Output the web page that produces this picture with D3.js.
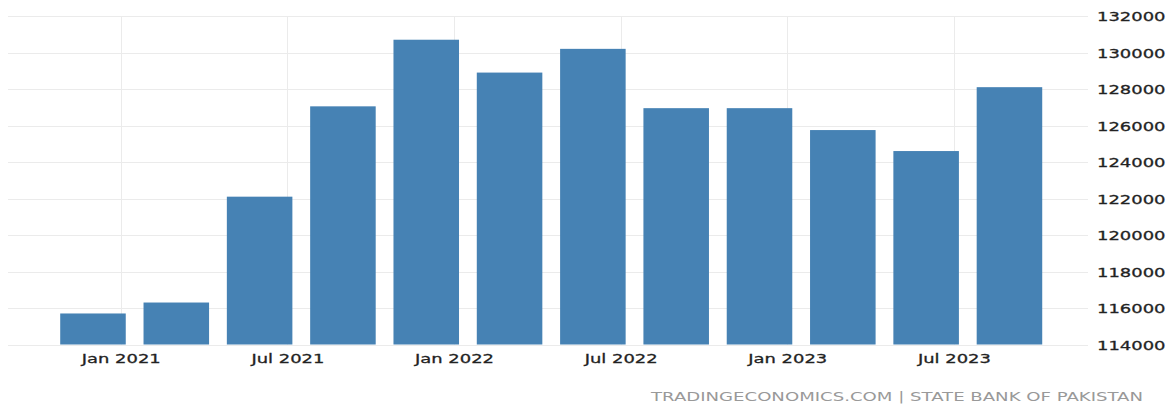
<!DOCTYPE html>
<html>
<head>
<meta charset="utf-8">
<script src="https://cdn.jsdelivr.net/npm/d3@7"></script>
<style>
  html, body { margin: 0; padding: 0; background: #ffffff; }
  svg { display: block; }
</style>
</head>
<body>
<svg id="chart" width="1171" height="406"></svg>
<script>
// ---- data ----
const periods = ["2020-12", "2021-03", "2021-06", "2021-09", "2021-12", "2022-03",
                 "2022-06", "2022-09", "2022-12", "2023-03", "2023-06", "2023-09"];
const values = [115700, 116300, 122100, 127050, 130700, 128900,
                130200, 126950, 126950, 125750, 124600, 128100];
const yTicks = [114000, 116000, 118000, 120000, 122000, 124000, 126000, 128000, 130000, 132000];
const xTickPeriods = ["2021-01", "2021-07", "2022-01", "2022-07", "2023-01", "2023-07"];
const xTickLabels = ["Jan 2021", "Jul 2021", "Jan 2022", "Jul 2022", "Jan 2023", "Jul 2023"];
const sourceText = "TRADINGECONOMICS.COM | STATE BANK OF PAKISTAN";

// ---- helpers ----
const parse = d3.utcParse("%Y-%m");
const base = parse(periods[0]);
const monthIndex = p => d3.utcMonth.count(base, parse(p));

const svg = d3.select("#chart");
const sx = 1.38;           // horizontal stretch of text in the reference
const font = "'DejaVu Sans', Verdana, sans-serif";

const x = d3.scaleLinear().domain([-3.06, 34.46]).range([8, 1050]);
const y = d3.scaleLinear().domain([114000, 132000]).range([344.5, 16]);
const gridRight = 1088;
const barHalf = 1.18; // months

// horizontal grid
svg.append("g").selectAll("line").data(yTicks).join("line")
  .attr("x1", 8).attr("x2", gridRight)
  .attr("y1", d => Math.round(y(d)) + 0.5).attr("y2", d => Math.round(y(d)) + 0.5)
  .attr("stroke", "#ebebeb").attr("stroke-width", 1);

// vertical grid
svg.append("g").selectAll("line").data(xTickPeriods).join("line")
  .attr("x1", d => Math.round(x(monthIndex(d))) + 0.5)
  .attr("x2", d => Math.round(x(monthIndex(d))) + 0.5)
  .attr("y1", y(132000)).attr("y2", y(114000))
  .attr("stroke", "#ebebeb").attr("stroke-width", 1);

// bars
svg.append("g").selectAll("rect").data(periods.map((p, i) => ({p, v: values[i]}))).join("rect")
  .attr("x", d => x(monthIndex(d.p) - barHalf))
  .attr("width", d => x(monthIndex(d.p) + barHalf) - x(monthIndex(d.p) - barHalf))
  .attr("y", d => y(d.v))
  .attr("height", d => y(114000) - y(d.v))
  .attr("fill", "#4682b4");

// y axis (right)
const yAxis = d3.axisRight(y).tickValues(yTicks).tickFormat(d3.format("d")).tickSize(0);
const gy = svg.append("g").attr("transform", `translate(${1097},0)`).call(yAxis);
gy.select(".domain").remove();
gy.selectAll("text")
  .attr("x", 0)
  .attr("dy", "0.36em")
  .attr("transform", `scale(${sx},1)`)
  .style("font-family", font).style("font-size", "13px")
  .attr("fill", "#222").attr("stroke", "#222").attr("stroke-width", 0.3);

// x axis
const xAxis = d3.axisBottom(x)
  .tickValues(xTickPeriods.map(monthIndex))
  .tickFormat((d, i) => xTickLabels[i]).tickSize(0);
const gx = svg.append("g").attr("transform", `translate(0,${363})`).call(xAxis);
gx.select(".domain").remove();
gx.selectAll("text")
  .attr("y", 0).attr("dy", 0)
  .attr("transform", `scale(${sx},1)`)
  .style("font-family", font).style("font-size", "13px")
  .attr("fill", "#222").attr("stroke", "#222").attr("stroke-width", 0.3);

// source
svg.append("text")
  .attr("x", 651).attr("y", 401)
  .attr("textLength", 492).attr("lengthAdjust", "spacingAndGlyphs")
  .style("font-family", font).style("font-size", "12.5px")
  .attr("fill", "#999")
  .text(sourceText);
</script>
</body>
</html>
